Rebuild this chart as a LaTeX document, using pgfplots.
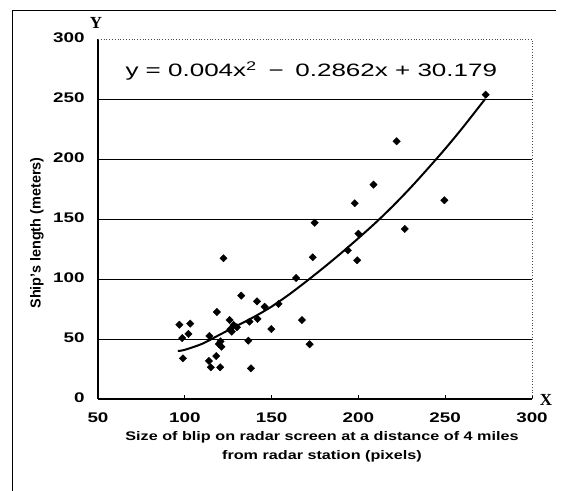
\documentclass[border=0pt]{standalone}
\usepackage{fontspec}
\setmainfont{Liberation Sans}
\newfontfamily\serifb{Liberation Serif}
\usepackage{graphicx}
\usepackage{pgfplots}
\pgfplotsset{compat=1.18}

% ship length vs blip size
\pgfplotstableread{
x y
273.3 253.6
222.0 214.8
208.7 178.6
197.9 163.1
249.5 165.6
174.8 146.9
200.0 137.8
226.7 141.7
193.9 123.9
173.7 118.1
199.3 115.6
164.1 100.8
122.3 117.3
132.5 86.1
141.6 81.4
146.0 76.9
154.0 79.2
167.5 65.8
149.8 58.3
137.3 64.4
141.9 66.7
118.5 72.5
125.8 65.8
128.1 61.7
126.2 58.1
130.0 59.8
127.1 56.1
114.2 52.5
136.6 48.6
119.6 45.8
121.1 43.6
171.9 45.6
96.9 61.9
103.1 62.8
98.5 50.8
102.1 54.2
118.1 35.8
113.9 31.7
115.0 26.4
120.4 26.4
138.1 25.6
98.9 33.9
120.6 48.1
}\ships

% trend curve as drawn
\pgfplotstableread{
x y
96 40
100 41
110 46
120 53.5
130 61
140 68.5
150 77
160 87
170 98
180 109.5
190 121.5
200 134
210 147
220 161
230 176
240 192
250 208.5
260 226
273 250
}\trend

\begin{document}
\begin{tikzpicture}
\useasboundingbox (0,0) rectangle (561bp,491bp);
\draw[line width=0.8bp] (12bp,0) -- (12bp,481bp) -- (556bp,481bp);

\begin{axis}[
  at={(98bp,92bp)}, anchor=south west,
  scale only axis, width=434bp, height=360bp,
  xmin=50, xmax=300, ymin=0, ymax=300,
  xtick={50,100,...,300}, ytick={0,50,...,300},
  axis x line*=bottom, axis y line*=left,
  axis line style={line width=1.2bp, -},
  tick style={black, line width=0.8bp},
  xtick align=inside, major tick length=4bp,
  ytick style={draw=none},
  extra y ticks={50,100,150,200,250},
  extra y tick labels={},
  extra y tick style={ymajorgrids=true, grid style={black, line width=0.8bp}},
  /pgf/number format/assume math mode=true,
  ticklabel style={font=\bfseries\fontsize{14}{16}\selectfont},
  xticklabel={\scalebox{1.35}[1]{\pgfmathprintnumber{\tick}}},
  yticklabel={\scalebox{1.35}[1]{\pgfmathprintnumber{\tick}}},
  xticklabel style={yshift=-10bp},
  yticklabel style={xshift=-10bp, yshift=1.5bp},
  clip=false,
]
\draw[dotted, line width=0.8bp, black!70] (rel axis cs:0,1) -- (rel axis cs:1,1) -- (rel axis cs:1,0);
\addplot[only marks, mark=square*, mark size=2.6bp, mark options={rotate=45, fill=black}] table {\ships};
\addplot[black, line width=2bp, smooth] table {\trend};
\end{axis}

\node[anchor=west] at (122bp,420bp) {\scalebox{1.45}[1]{\fontsize{18}{20}\selectfont y = 0.004x\textsuperscript{2} \,\textminus\, 0.2862x + 30.179}};
\node[font=\serifb\bfseries\fontsize{17}{18}\selectfont] at (96bp,468bp) {Y};
\node[font=\serifb\bfseries\fontsize{17}{18}\selectfont] at (546bp,91bp) {X};
\node[rotate=90, font=\bfseries\fontsize{14.5}{16}\selectfont] at (37bp,258bp) {Ship's length (meters)};
\node[align=center, font=\bfseries\fontsize{12.5}{19}\selectfont] at (322bp,44bp)
  {\scalebox{1.3}[1]{Size of blip on radar screen at a distance of 4 miles}\\
   \scalebox{1.3}[1]{from radar station (pixels)}};
\end{tikzpicture}
\end{document}
